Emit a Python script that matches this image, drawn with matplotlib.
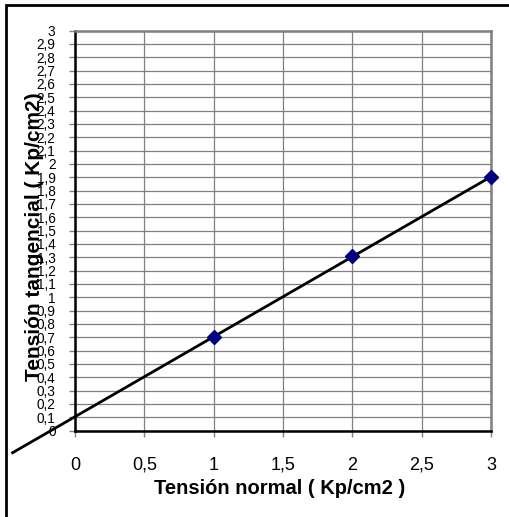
import numpy as np
import matplotlib
matplotlib.use("Agg")
import matplotlib.pyplot as plt
from matplotlib.patches import Rectangle

plt.rcParams['font.family'] = ['Liberation Sans', 'DejaVu Sans']

# Data
normal_stress = [1, 2, 3]
shear_stress = [0.70, 1.31, 1.90]
x_ticks = [0, 0.5, 1, 1.5, 2, 2.5, 3]
y_ticks = [round(0.1 * i, 1) for i in range(31)]
backcast = 0.45

def fmt(v):
    s = ('%g' % v)
    return s.replace('.', ',')

fig = plt.figure(figsize=(5.10, 5.17), dpi=100)
W, H = 510, 517
ax = fig.add_axes([75 / W, 1 - 430.5 / H, (491 - 75) / W, (430.5 - 30.5) / H])

ax.set_xlim(0, 3)
ax.set_ylim(0, 3)
ax.set_xticks(x_ticks)
ax.set_xticklabels([fmt(v) for v in x_ticks], fontsize=13)
ax.set_yticks(y_ticks)
ax.set_yticklabels([fmt(v) for v in y_ticks], fontsize=9.8)
ax.tick_params(axis='x', direction='out', length=4, width=1, color='#808080', pad=15)
ax.tick_params(axis='y', direction='out', length=4, width=1, color='#808080', pad=10)
ax.grid(True, color='#808080', linewidth=0.9)
ax.set_axisbelow(True)

for side in ['top', 'right']:
    ax.spines[side].set_color('#808080')
    ax.spines[side].set_linewidth(1.8)
for side in ['left', 'bottom']:
    ax.spines[side].set_color('black')
    ax.spines[side].set_linewidth(1.8)

# Linear trend line
slope, intercept = np.polyfit(normal_stress, shear_stress, 1)
xl = np.array([-backcast, max(normal_stress)])
ax.plot(xl, slope * xl + intercept, color='black', linewidth=2, clip_on=False, zorder=5)

ax.plot(normal_stress, shear_stress, linestyle='none', marker='D', markersize=7,
        color='#000080', clip_on=False, zorder=6)

fig.text(280 / W, 1 - 488 / H, 'Tensión normal ( Kp/cm2 )', fontsize=14.5,
         fontweight='bold', ha='center', va='center')
fig.text(35 / W, 1 - 237 / H, 'Tensión tangencial ( Kp/cm2)', rotation=90,
         fontsize=15, fontweight='bold', ha='center', va='center', zorder=10)

# Outer frame (only top and left visible)
fig.patches.append(Rectangle((6 / W, -0.1), 1.2, 1 - 4.5 / H + 0.1, transform=fig.transFigure,
                             fill=False, edgecolor='black', linewidth=2))

fig.savefig('out.png', dpi=100)
